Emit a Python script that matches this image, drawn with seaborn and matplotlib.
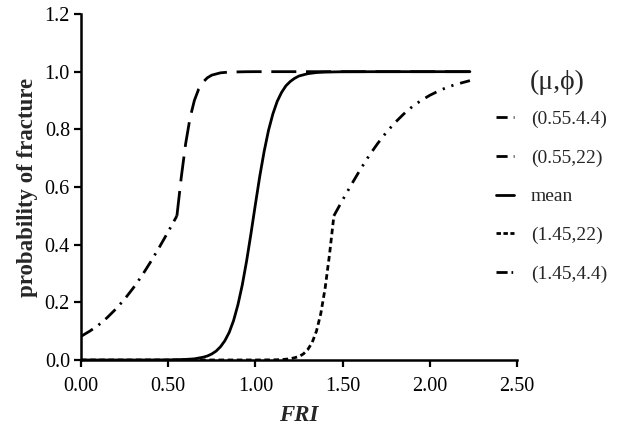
import matplotlib
matplotlib.use("Agg")
import pandas as pd
import matplotlib.pyplot as plt
from matplotlib.lines import Line2D
import seaborn as sns

sns.set_style("ticks")
plt.rcParams['font.family'] = ['Liberation Serif', 'DejaVu Serif']

## Data ##

# (0.55,4.4) - lower branch, up to FRI = 0.55
fri_a = [0.00, 0.05, 0.10, 0.15, 0.20, 0.25, 0.30, 0.35, 0.40, 0.45, 0.50, 0.55]
p_a = [0.082, 0.100, 0.121, 0.147, 0.177, 0.211, 0.250, 0.293, 0.341, 0.392, 0.445, 0.500]

# (0.55,22) - upper branch, from FRI = 0.55
fri_b = [0.55, 0.575, 0.60, 0.625, 0.65, 0.675, 0.70, 0.725, 0.75, 0.80, 0.85, 0.95, 1.00, 1.50, 2.00, 2.23]
p_b = [0.500, 0.634, 0.750, 0.839, 0.900, 0.940, 0.964, 0.979, 0.988, 0.996, 0.9986, 0.9998, 1.0, 1.0, 1.0, 1.0]

# mean
fri_m = [0.00, 0.30, 0.50, 0.60, 0.65, 0.70, 0.725, 0.75, 0.775, 0.80, 0.825, 0.85, 0.875, 0.90, 0.925, 0.95, 0.975,
         1.00, 1.025, 1.05, 1.075, 1.10, 1.125, 1.15, 1.175, 1.20, 1.225, 1.25, 1.30, 1.35, 1.40, 1.50, 1.75, 2.00, 2.23]
p_m = [0.0, 0.0, 0.0004, 0.002, 0.004, 0.0096, 0.014, 0.021, 0.031, 0.046, 0.067, 0.096, 0.137, 0.192, 0.261, 0.345, 0.440,
       0.540, 0.637, 0.723, 0.796, 0.853, 0.897, 0.928, 0.951, 0.966, 0.977, 0.985, 0.993, 0.997, 0.9986, 0.9997, 1.0, 1.0, 1.0]

# (1.45,22) - lower branch, up to FRI = 1.45
fri_c = [0.00, 0.50, 1.00, 1.10, 1.15, 1.20, 1.25, 1.275, 1.30, 1.325, 1.35, 1.375, 1.40, 1.425, 1.45]
p_c = [0.0, 0.0, 0.00005, 0.00045, 0.0014, 0.0041, 0.012, 0.021, 0.036, 0.060, 0.100, 0.161, 0.250, 0.366, 0.500]

# (1.45,4.4) - upper branch, from FRI = 1.45
fri_d = [1.45, 1.50, 1.55, 1.60, 1.65, 1.70, 1.75, 1.80, 1.85, 1.90, 1.95, 2.00, 2.05, 2.10, 2.15, 2.20, 2.23]
p_d = [0.500, 0.555, 0.608, 0.659, 0.707, 0.750, 0.789, 0.823, 0.853, 0.879, 0.900, 0.918, 0.933, 0.946, 0.956, 0.964, 0.969]

labels = ["(0.55.4.4)", "(0.55,22)", "mean", "(1.45,22)", "(1.45,4.4)"]
styles = [(0, (5, 2.5, 0.8, 2.5)), (0, (9, 3.5)), "solid", (0, (2, 1.3)), (0, (4.5, 2.5, 0.8, 2.5, 0.8, 2.5))]
# shorter patterns so they fit the small legend handles
legend_styles = [(0, (4, 2.2, 0.7, 3)), (0, (4, 2.2, 2.2, 3)), "solid", (0, (1.6, 0.9)), (0, (4, 1.4, 0.6, 1.4, 0.6, 3))]

curves = [(fri_a, p_a), (fri_b, p_b), (fri_m, p_m), (fri_c, p_c), (fri_d, p_d)]

fig = plt.figure(figsize=(6.19, 4.30), dpi=100)
ax = fig.add_axes([81/619, 70/430, 436/619, 346/430])

lw = 2.0
for (xs, ys), ls in zip(curves, styles):
    df = pd.DataFrame({"FRI": xs, "p": ys})
    sns.lineplot(data=df, x="FRI", y="p", ax=ax, color="black", lw=lw,
                 linestyle=ls, errorbar=None, legend=False)

ax.set_xlim(0, 2.5)
ax.set_ylim(0, 1.2)
ax.set_xticks([0.0, 0.5, 1.0, 1.5, 2.0, 2.5])
ax.set_xticklabels(["{:.2f}".format(v) for v in ax.get_xticks()])
ax.set_yticks([0.0, 0.2, 0.4, 0.6, 0.8, 1.0, 1.2])
ax.set_yticklabels(["{:.1f}".format(v) for v in ax.get_yticks()])
ax.tick_params(axis="both", labelsize=14.5, length=5, width=1.6, direction="out", colors="black")
ax.tick_params(axis="x", pad=7)
ax.tick_params(axis="y", pad=3)
for side in ["left", "bottom"]:
    ax.spines[side].set_linewidth(1.8)
    ax.spines[side].set_color("black")
sns.despine(ax=ax)

ax.set_xlabel("FRI", fontsize=16.5, fontweight="bold", fontstyle="italic", labelpad=7)
ax.set_ylabel("probability of fracture", fontsize=16.5, fontweight="bold", labelpad=5)

handles = [Line2D([], [], color="black", lw=lw, linestyle=ls) for ls in legend_styles]
fig.legend(handles, labels, loc="upper left", bbox_to_anchor=(496/619, 0.743),
           frameon=False, fontsize=14, handlelength=0.95, handletextpad=0.85,
           labelspacing=1.08, borderpad=0, borderaxespad=0)
fig.text(530/619, 348/430, "(\u03bc,\u03d5)", fontsize=20, va="center", ha="left")

fig.savefig("out.png", dpi=100)
